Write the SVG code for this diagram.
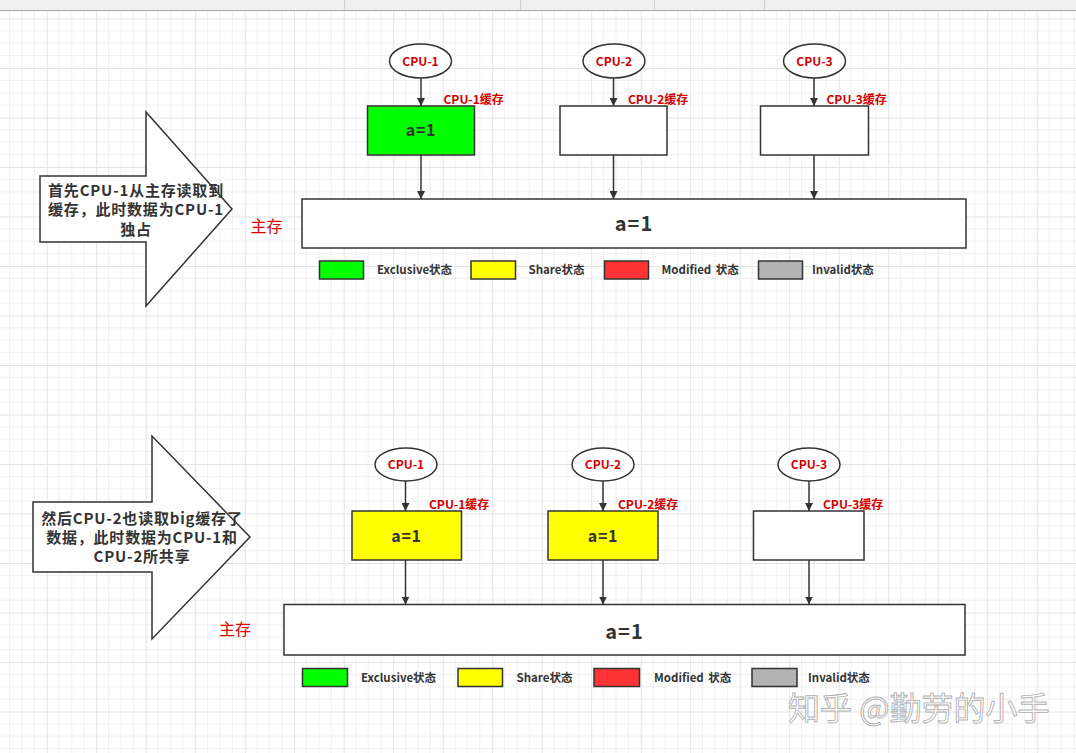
<svg xmlns="http://www.w3.org/2000/svg" width="1076" height="753" viewBox="0 0 1076 753">
<defs>
<pattern id="grid" x="46.7" y="18.5" width="49.5" height="49.5" patternUnits="userSpaceOnUse">
<path d="M12.375,0V49.5M24.75,0V49.5M37.125,0V49.5M0,12.375H49.5M0,24.75H49.5M0,37.125H49.5" stroke="#efefef" stroke-width="1" fill="none"/>
<path d="M0.5,0V49.5M0,0.5H49.5" stroke="#e3e3e3" stroke-width="1" fill="none"/>
</pattern>
<marker id="arr" markerWidth="8" markerHeight="8" refX="8" refY="4" orient="auto" markerUnits="userSpaceOnUse">
<path d="M0,0L8,4L0,8z" fill="#333"/>
</marker>
<style>
.box{stroke:#333;stroke-width:1.5}
.ell{fill:#fff;stroke:#333;stroke-width:1.5}
.big{fill:#fff;stroke:#333;stroke-width:1.5}
.cpu{font-family:"Noto Sans CJK SC","Noto Sans",sans-serif;font-weight:bold;font-size:12px;fill:#d40000;text-anchor:middle}
.lbl{font-family:"Noto Sans CJK SC","Noto Sans",sans-serif;font-weight:bold;font-size:12px;fill:#d40000}
.main{font-family:"Noto Sans CJK SC","Noto Sans",sans-serif;font-size:16px;fill:#e00000}
.val{font-family:"Noto Sans CJK SC","Noto Sans",sans-serif;font-weight:bold;font-size:16px;fill:#333;text-anchor:middle;letter-spacing:0.8px}
.mval{font-family:"Noto Sans CJK SC","Noto Sans",sans-serif;font-weight:bold;font-size:20px;fill:#333;text-anchor:middle;letter-spacing:1px}
.desc{font-family:"Noto Sans CJK SC","Noto Sans",sans-serif;font-weight:bold;font-size:15px;fill:#333;text-anchor:middle;letter-spacing:0.8px}
.leg{font-family:"Noto Sans CJK SC","Noto Sans",sans-serif;font-weight:bold;font-size:11.5px;fill:#333}
.con{stroke:#333;stroke-width:1.5;fill:none;marker-end:url(#arr)}
</style>
</defs>
<rect width="1076" height="753" fill="#fff"/>
<rect x="0" y="11" width="1076" height="742" fill="url(#grid)"/>
<g id="toolbar">
<rect x="0" y="0" width="1076" height="10" fill="#f0f0f0"/>
<path d="M0,10.5H1076" stroke="#a8a8a8" stroke-width="1"/>
<path d="M344.5,0V10M520.5,0V10M654.5,0V10M764.5,0V10" stroke="#d0d0d0" stroke-width="1"/>
</g>

<g id="arrow-top">
<polygon class="big" points="40,176 146,176 146,112 232,209 146,306 146,242 40,242"/>
<text class="desc" x="136" y="195.5">首先CPU-1从主存读取到</text>
<text class="desc" x="136" y="215">缓存，此时数据为CPU-1</text>
<text class="desc" x="136" y="234.5">独占</text>
</g>

<g id="connectors-top">
<line class="con" x1="421" y1="78" x2="421" y2="106"/>
<line class="con" x1="613.5" y1="78" x2="613.5" y2="106"/>
<line class="con" x1="814" y1="78" x2="814" y2="106"/>
<line class="con" x1="421" y1="155" x2="421" y2="199"/>
<line class="con" x1="613.5" y1="155" x2="613.5" y2="199"/>
<line class="con" x1="814" y1="155" x2="814" y2="199"/>
</g>

<g id="cpu1-top"><ellipse class="ell" cx="420.5" cy="61" rx="31" ry="17"/><text class="cpu" x="420.5" y="65.5">CPU-1</text></g>
<g id="cpu2-top"><ellipse class="ell" cx="614" cy="61" rx="31" ry="17"/><text class="cpu" x="614" y="65.5">CPU-2</text></g>
<g id="cpu3-top"><ellipse class="ell" cx="814.5" cy="61" rx="31" ry="17"/><text class="cpu" x="814.5" y="65.5">CPU-3</text></g>

<g id="cache1-top"><rect class="box" x="367.5" y="106" width="107" height="49" fill="#00ff00"/><text class="val" x="421" y="136">a=1</text><text class="lbl" x="443.5" y="103.5">CPU-1缓存</text></g>
<g id="cache2-top"><rect class="box" x="560" y="106" width="107" height="49" fill="#fff"/><text class="lbl" x="628" y="103.5">CPU-2缓存</text></g>
<g id="cache3-top"><rect class="box" x="760.5" y="106" width="108" height="49" fill="#fff"/><text class="lbl" x="826.5" y="103.5">CPU-3缓存</text></g>

<g id="memory-top">
<text class="main" x="250.5" y="231.5">主存</text>
<rect class="box" x="302" y="199" width="664" height="49" fill="#fff"/>
<text class="mval" x="634" y="231">a=1</text>
</g>

<g id="legend-top">
<rect class="box" x="319.5" y="261" width="44" height="18" fill="#00ff00"/><text class="leg" x="377" y="274">Exclusive状态</text>
<rect class="box" x="471" y="261" width="44.5" height="18" fill="#ffff00"/><text class="leg" x="528.5" y="274">Share状态</text>
<rect class="box" x="604.5" y="261" width="44" height="18" fill="#ff3333"/><text class="leg" x="661.5" y="274" word-spacing="2">Modified 状态</text>
<rect class="box" x="758.5" y="261" width="44" height="18" fill="#b3b3b3"/><text class="leg" x="812" y="274">Invalid状态</text>
</g>

<g id="arrow-bottom">
<polygon class="big" points="33,502 152,502 152,436 250,537 152,639 152,572 33,572"/>
<text class="desc" x="142" y="524">然后CPU-2也读取big缓存了</text>
<text class="desc" x="142" y="543">数据，此时数据为CPU-1和</text>
<text class="desc" x="142" y="562">CPU-2所共享</text>
</g>

<g id="connectors-bottom">
<line class="con" x1="405.5" y1="481" x2="405.5" y2="511"/>
<line class="con" x1="603" y1="481" x2="603" y2="511"/>
<line class="con" x1="809" y1="481" x2="809" y2="511"/>
<line class="con" x1="405.5" y1="560" x2="405.5" y2="604.5"/>
<line class="con" x1="603" y1="560" x2="603" y2="604.5"/>
<line class="con" x1="809" y1="560" x2="809" y2="604.5"/>
</g>

<g id="cpu1-bottom"><ellipse class="ell" cx="406" cy="464.5" rx="31" ry="16.5"/><text class="cpu" x="406" y="469">CPU-1</text></g>
<g id="cpu2-bottom"><ellipse class="ell" cx="603" cy="464.5" rx="31" ry="16.5"/><text class="cpu" x="603" y="469">CPU-2</text></g>
<g id="cpu3-bottom"><ellipse class="ell" cx="809" cy="464.5" rx="31" ry="16.5"/><text class="cpu" x="809" y="469">CPU-3</text></g>

<g id="cache1-bottom"><rect class="box" x="352" y="511" width="109.5" height="49" fill="#ffff00"/><text class="val" x="406.5" y="541.5">a=1</text><text class="lbl" x="429" y="508.5">CPU-1缓存</text></g>
<g id="cache2-bottom"><rect class="box" x="548" y="511" width="110" height="49" fill="#ffff00"/><text class="val" x="603" y="541.5">a=1</text><text class="lbl" x="618" y="508.5">CPU-2缓存</text></g>
<g id="cache3-bottom"><rect class="box" x="753.5" y="511" width="110.5" height="49" fill="#fff"/><text class="lbl" x="823" y="508.5">CPU-3缓存</text></g>

<g id="memory-bottom">
<text class="main" x="219" y="635">主存</text>
<rect class="box" x="284" y="604.5" width="681" height="50.5" fill="#fff"/>
<text class="mval" x="624.5" y="639">a=1</text>
</g>

<g id="legend-bottom">
<rect class="box" x="302.5" y="668.5" width="45" height="18" fill="#00ff00"/><text class="leg" x="361" y="681.5">Exclusive状态</text>
<rect class="box" x="458" y="668.5" width="44.5" height="18" fill="#ffff00"/><text class="leg" x="516.5" y="681.5">Share状态</text>
<rect class="box" x="594" y="668.5" width="45.5" height="18" fill="#ff3333"/><text class="leg" x="654" y="681.5" word-spacing="2">Modified 状态</text>
<rect class="box" x="752" y="668.5" width="45" height="18" fill="#b3b3b3"/><text class="leg" x="808" y="681.5">Invalid状态</text>
</g>

<g id="watermark">
<text x="788" y="720" font-family="'Noto Sans CJK SC',sans-serif" font-size="32" fill="#ffffff" fill-opacity="0.85" stroke="#9a9a9a" stroke-width="0.9" stroke-opacity="0.8">知乎 @勤劳的小手</text>
</g>
</svg>
